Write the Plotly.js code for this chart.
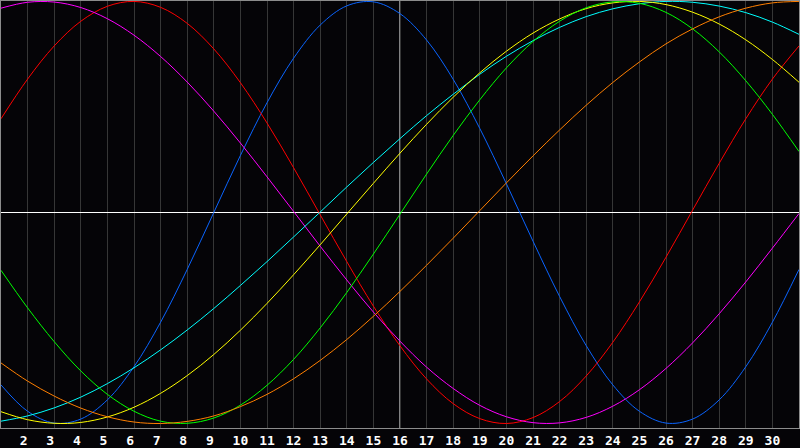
<!DOCTYPE html>
<html>
<head>
<meta charset="utf-8">
<script src="https://cdn.plot.ly/plotly-3.0.1.min.js"></script>
<style>
html,body{margin:0;padding:0;background:#050407;}
#chart{width:800px;height:448px;}
</style>
</head>
<body>
<div id="chart"></div>
<script>
// Days of the month shown on the x axis
const days = [1,2,3,4,5,6,7,8,9,10,11,12,13,14,15,16,17,18,19,20,21,22,23,24,25,26,27,28,29,30,31];
const tickDays = [2,3,4,5,6,7,8,9,10,11,12,13,14,15,16,17,18,19,20,21,22,23,24,25,26,27,28,29,30];
const tickLabels = ['2\u00a0','3\u00a0','4\u00a0','5\u00a0','6\u00a0','7\u00a0','8\u00a0','9\u00a0','10','11','12','13','14','15','16','17','18','19','20','21','22','23','24','25','26','27','28','29','30'];
const today = 16;

// Cycle values (-1 .. +1)
const blueCycle = [-0.817,-0.942,-0.998,-0.979,-0.888,-0.731,-0.520,-0.270,0.000,0.270,0.520,0.731,0.888,0.979,0.998,0.942,0.817,0.631,0.398,0.136,-0.136,-0.398,-0.631,-0.817,-0.942,-0.998,-0.979,-0.888,-0.731,-0.520,-0.270];
const redCycle = [0.444,0.632,0.789,0.906,0.977,1.000,0.972,0.896,0.775,0.615,0.424,0.212,-0.011,-0.233,-0.444,-0.632,-0.789,-0.906,-0.977,-1.000,-0.972,-0.896,-0.775,-0.615,-0.424,-0.212,0.011,0.233,0.444,0.632,0.789];
const greenCycle = [-0.274,-0.452,-0.612,-0.751,-0.862,-0.942,-0.989,-0.999,-0.974,-0.913,-0.819,-0.696,-0.547,-0.379,-0.197,-0.008,0.182,0.365,0.534,0.685,0.810,0.906,0.970,0.998,0.991,0.948,0.870,0.761,0.624,0.465,0.289];
const magentaCycle = [0.968,0.996,0.997,0.971,0.918,0.840,0.739,0.618,0.480,0.329,0.169,0.005,-0.160,-0.320,-0.472,-0.610,-0.733,-0.834,-0.914,-0.968,-0.996,-0.997,-0.971,-0.918,-0.840,-0.739,-0.618,-0.480,-0.329,-0.169,-0.005];
const yellowCycle = [-0.944,-0.982,-0.999,-0.995,-0.969,-0.923,-0.857,-0.773,-0.673,-0.558,-0.431,-0.295,-0.153,-0.007,0.138,0.281,0.418,0.546,0.662,0.764,0.850,0.917,0.966,0.993,1.000,0.985,0.949,0.893,0.818,0.725,0.617];
const orangeCycle = [-0.713,-0.799,-0.870,-0.927,-0.968,-0.993,-1.000,-0.990,-0.964,-0.920,-0.862,-0.788,-0.701,-0.602,-0.492,-0.374,-0.250,-0.122,0.009,0.140,0.268,0.391,0.508,0.616,0.713,0.799,0.870,0.927,0.968,0.993,1.000];
const cyanCycle = [-0.989,-0.964,-0.926,-0.875,-0.811,-0.736,-0.651,-0.557,-0.455,-0.346,-0.233,-0.116,0.002,0.121,0.237,0.350,0.459,0.560,0.655,0.740,0.814,0.877,0.928,0.965,0.989,1.000,0.996,0.978,0.947,0.902,0.844];

function curve(vals, color) {
  return {x: days, y: vals, type: 'scatter', mode: 'lines',
          line: {color: color, width: 1, shape: 'spline', smoothing: 1},
          hoverinfo: 'skip', showlegend: false};
}

const traces = [
  curve(blueCycle, '#0a64ff'),
  curve(redCycle, '#ff0000'),
  curve(magentaCycle, '#ff00ff'),
  curve(cyanCycle, '#00ffff'),
  curve(yellowCycle, '#ffff00'),
  curve(greenCycle, '#00ff00'),
  curve(orangeCycle, '#ff7f00')
];

const layout = {
  width: 800, height: 448,
  margin: {l: 1, r: 1, t: 1, b: 20, pad: 0},
  paper_bgcolor: '#050407',
  plot_bgcolor: '#050407',
  showlegend: false,
  xaxis: {
    range: [1, 31], fixedrange: true,
    tickvals: tickDays, ticktext: tickLabels,
    showgrid: true, gridcolor: '#363636', gridwidth: 1,
    zeroline: false, ticks: '',
    showline: true, linecolor: '#8c8c8c', linewidth: 1, mirror: true,
    tickfont: {family: 'DejaVu Sans Mono', size: 13, color: '#ffffff', weight: 'bold'}
  },
  yaxis: {
    range: [-1.0213, 1.002], fixedrange: true,
    showticklabels: false, showgrid: false, ticks: '',
    zeroline: true, zerolinecolor: '#ffffff', zerolinewidth: 1,
    showline: true, linecolor: '#8c8c8c', linewidth: 1, mirror: true
  },
  shapes: [
    {type: 'line', xref: 'x', yref: 'paper', x0: today, x1: today, y0: 0, y1: 1,
     line: {color: '#ffffff', width: 1}, layer: 'below'}
  ]
};

Plotly.newPlot('chart', traces, layout, {displayModeBar: false, staticPlot: true});
</script>
</body>
</html>
